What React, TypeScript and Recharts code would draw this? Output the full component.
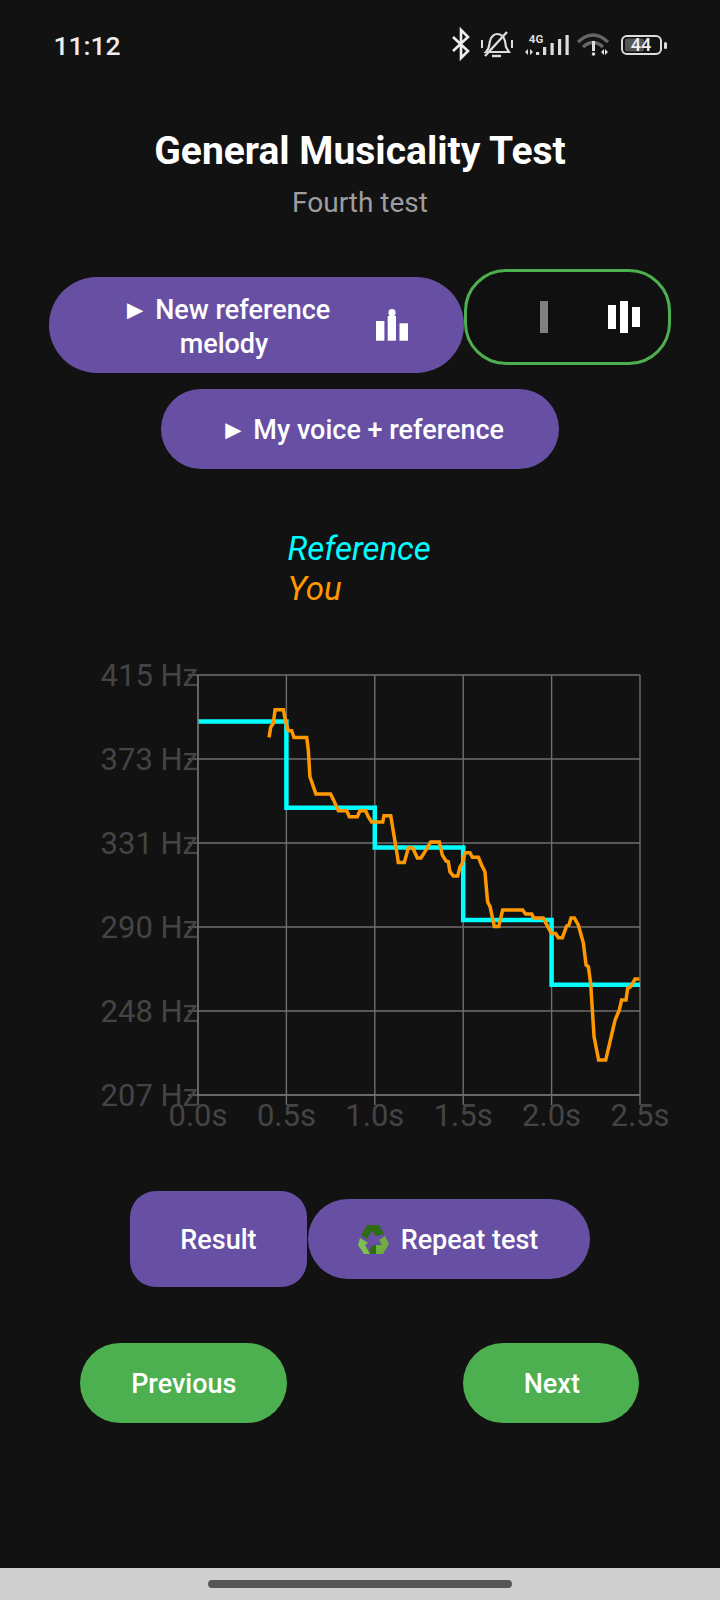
import React from "react";
import { LineChart, Line, XAxis, YAxis, CartesianGrid } from "recharts";

const referenceTimes = [0, 0.5, 1, 1.5, 2, 2.5];
const referenceHz = [392, 349.2, 329.6, 293.7, 261.6, 261.6];
const youTimes = [
  0.402, 0.411, 0.426, 0.436, 0.483, 0.496, 0.511, 0.53, 0.543, 0.615, 0.624, 0.633, 0.667, 0.75, 0.765, 0.794,
  0.841, 0.856, 0.901, 0.916, 0.948, 0.963, 0.982, 1.045, 1.052, 1.09, 1.124, 1.133, 1.167, 1.19, 1.214, 1.241,
  1.261, 1.284, 1.316, 1.365, 1.382, 1.403, 1.416, 1.425, 1.444, 1.469, 1.482, 1.495, 1.51, 1.538, 1.552, 1.586,
  1.604, 1.623, 1.638, 1.652, 1.676, 1.701, 1.723, 1.836, 1.853, 1.887, 1.9, 1.953, 1.978, 2.0, 2.023, 2.038,
  2.061, 2.085, 2.098, 2.11, 2.129, 2.151, 2.18, 2.195, 2.208, 2.221, 2.24, 2.266, 2.306, 2.359, 2.383, 2.396,
  2.421, 2.43, 2.447, 2.472, 2.496,
];
const youHz = [
  384.1, 389.1, 391.1, 397.8, 397.8, 391.9, 387.4, 387.4, 384, 384, 377.9, 364.6, 356.1, 356.1, 353.4, 347.8,
  347.8, 344.8, 344.8, 347.8, 347.8, 344.8, 342.2, 342.2, 345.3, 345.3, 327.5, 322.2, 322.2, 329.5, 329.5, 324.4,
  324.4, 327.5, 332.3, 332.3, 325.8, 322.9, 322.5, 317.6, 315.4, 315.4, 320.1, 321.7, 327, 327, 324.7, 324.7,
  320.9, 317.6, 302.7, 300.3, 290.4, 290.4, 298.6, 298.6, 296.6, 296.6, 294.6, 294.6, 290.4, 287, 287, 284.9,
  284.9, 290.7, 291.2, 294.6, 294.6, 291.2, 282.1, 271.4, 270.5, 262.3, 235.9, 224.3, 224.3, 244.1, 249.1, 254,
  254, 259.8, 260.6, 264.4, 264.4,
];
const xTicks = [0, 0.5, 1, 1.5, 2, 2.5];
const yTicks = [207, 248.6, 290.2, 331.8, 373.4, 415];

const referenceData = referenceTimes.map((t, i) => ({ t, hz: referenceHz[i] }));
const youData = youTimes.map((t, i) => ({ t, hz: youHz[i] }));

const FONT = "Roboto, sans-serif";
const PURPLE = "#6750A4";
const GREEN = "#4CAF50";
const GRID = "#6f6f6f";
const LABEL = "#444444";

function Box(p: { x0: number; y0: number; x1: number; y1: number; r: number; bg: string; children?: React.ReactNode; style?: React.CSSProperties }) {
  return (
    <div style={{ position: "absolute", left: p.x0, top: p.y0, width: p.x1 - p.x0, height: p.y1 - p.y0, borderRadius: p.r, background: p.bg, boxSizing: "border-box", ...p.style }}>
      {p.children}
    </div>
  );
}

function Label(p: { cx: number; cy: number; size: number; color: string; weight?: number; italic?: boolean; text: string; left?: number }) {
  const h = 60;
  const base: React.CSSProperties = {
    position: "absolute",
    top: p.cy - h / 2,
    height: h,
    lineHeight: h + "px",
    fontFamily: FONT,
    fontSize: p.size,
    color: p.color,
    fontWeight: p.weight ?? 400,
    fontStyle: p.italic ? "italic" : "normal",
    whiteSpace: "pre",
  };
  if (p.left !== undefined) return <div style={{ ...base, left: p.left }}>{p.text}</div>;
  return <div style={{ ...base, left: p.cx - 300, width: 600, textAlign: "center" }}>{p.text}</div>;
}

function Icons() {
  const rects: [number, number, number, number, string][] = [
    [540, 301, 8, 32, "#808080"],
    [608, 305, 8, 24, "#fff"],
    [620, 301, 8, 32, "#fff"],
    [632, 307, 8, 20, "#fff"],
    [376, 321, 8.4, 19.7, "#fff"],
    [387.7, 316, 8.3, 24.7, "#fff"],
    [399.5, 323.3, 8.5, 17.4, "#fff"],
    [536, 52, 3.2, 3, "#ddd"],
    [543, 47, 3.2, 8, "#ddd"],
    [550.5, 43, 3.2, 12, "#ddd"],
    [558, 39, 3.2, 16, "#ddd"],
    [565.5, 35, 3.2, 20, "#ddd"],
  ];
  return (
    <svg width={720} height={1600} style={{ position: "absolute", left: 0, top: 0, pointerEvents: "none" }}>
      {rects.map((r, i) => (
        <rect key={i} x={r[0]} y={r[1]} width={r[2]} height={r[3]} fill={r[4]} />
      ))}
      <circle cx={392} cy={312.7} r={3.6} fill="#fff" />
      {/* bluetooth */}
      <polyline points="453,37 468,51 461,58 461,30 468,37 453,51" fill="none" stroke="#eee" strokeWidth={2.6} />
      {/* muted bell */}
      <path d="M486,52 C490,48 489,44 490,41 C491,36 495,34 497,34 C501,34 504,37 505,41 L506,47 L509,52 Z" fill="none" stroke="#ddd" strokeWidth={2.2} />
      <path d="M492,56 H501" stroke="#ddd" strokeWidth={2.4} />
      <path d="M485,56 L507,32" stroke="#ddd" strokeWidth={2.4} />
      <path d="M482,40 V48 M512,40 V48" stroke="#ddd" strokeWidth={2} />
      <text x={536} y={43} fontFamily={FONT} fontWeight={700} fontSize={11.5} fill="#ddd" textAnchor="middle">4G</text>
      <path d="M525,52 l3,-3 v6 z M530,49 l3,3 -3,3 z" fill="#ddd" />
      {/* wifi */}
      <path d="M578,42 Q593,28 608,42" fill="none" stroke="#666" strokeWidth={3.2} />
      <path d="M583,47 Q593,38 603,47" fill="none" stroke="#666" strokeWidth={3.2} />
      <rect x={592} y={41} width={3} height={10} fill="#ddd" />
      <circle cx={593.5} cy={54} r={1.8} fill="#ddd" />
      <path d="M601,52 l3,-3 v6 z M605,49 l3,3 -3,3 z" fill="#ddd" />
      {/* battery */}
      <rect x={622} y={36} width={39} height={18} rx={5} fill="none" stroke="#ddd" strokeWidth={2} />
      <rect x={625} y={38.5} width={19} height={13} rx={2} fill="#555" />
      <rect x={664} y={42} width={3} height={7} rx={1.5} fill="#ddd" />
      <text x={641} y={51} fontFamily={FONT} fontWeight={500} fontSize={18} fill="#eee" textAnchor="middle">44</text>
      {/* recycle */}
      <g transform="translate(373 1240)">
        <polygon points="-6,-15 6,-15 11,-6 3,-4 -1,-9 -6,-1 -12,-5" fill="#2e6b12" />
        <polygon points="12,-4 16,4 10,14 1,14 1,9 -4,14 1,9 1,5 9,5 6,0" fill="#6fae3f" />
        <polygon points="-13,-2 -5,3 -8,5 -3,14 -9,14 -15,5" fill="#7fbf4f" />
        <polygon points="-3,8 3,4 3,14 -3,14" fill="#2e6b12" />
      </g>
    </svg>
  );
}

export default function App() {
  return (
    <div style={{ position: "absolute", left: 0, top: 0, width: 720, height: 1600, background: "#121212", overflow: "hidden", fontFamily: FONT }}>
      <Label cx={87} cy={45.5} size={26.5} weight={500} color="#eeeeee" text="11:12" />
      <Label cx={360} cy={151} size={39} weight={700} color="#ffffff" text="General Musicality Test" />
      <Label cx={360} cy={203} size={28} color="#9e9e9e" text="Fourth test" />

      <Box x0={48.5} y0={277} x1={463.5} y1={372.7} r={48} bg={PURPLE} />
      <Label cx={226} cy={309.5} size={27} weight={500} color="#fff" text="► New reference" />
      <Label cx={224} cy={343.5} size={27} weight={500} color="#fff" text="melody" />
      <Box x0={464.3} y0={269} x1={671.5} y1={364.7} r={42} bg="#101010" style={{ border: `3.5px solid ${GREEN}` }} />
      <Box x0={161} y0={389} x1={558.6} y1={468.7} r={40} bg={PURPLE} />
      <Label cx={362} cy={429.5} size={27} weight={500} color="#fff" text="► My voice + reference" />

      <Label cx={0} left={287.5} cy={549} size={33} italic color="#00FFFF" text="Reference" />
      <Label cx={0} left={287.5} cy={589} size={33} italic color="#FF9800" text="You" />

      <div style={{ position: "absolute", left: 0, top: 640 }}>
        <LineChart width={720} height={520} margin={{ top: 35, right: 80, bottom: 25, left: 88 }}>
          <CartesianGrid stroke={GRID} strokeWidth={1.4} />
          <XAxis
            dataKey="t"
            type="number"
            domain={[0, 2.5]}
            ticks={xTicks}
            allowDuplicatedCategory={false}
            tickFormatter={(v: number) => v.toFixed(1) + "s"}
            stroke={GRID}
            strokeWidth={1.4}
            tickSize={10}
            tickMargin={-1}
            height={40}
            interval={0}
            tick={{ fill: LABEL, fontSize: 31, fontFamily: FONT }}
          />
          <YAxis
            dataKey="hz"
            type="number"
            domain={[207, 415]}
            ticks={yTicks}
            tickFormatter={(v: number) => Math.floor(v) + " Hz"}
            stroke={GRID}
            strokeWidth={1.4}
            tickSize={10}
            tickMargin={-10}
            width={110}
            interval={0}
            tick={{ fill: LABEL, fontSize: 31, fontFamily: FONT }}
          />
          <Line data={referenceData} dataKey="hz" type="stepAfter" stroke="#00FFFF" strokeWidth={4.5} dot={false} isAnimationActive={false} />
          <Line data={youData} dataKey="hz" type="linear" stroke="#FF9800" strokeWidth={3.5} dot={false} isAnimationActive={false} />
        </LineChart>
      </div>

      <Box x0={130} y0={1191} x1={306.8} y1={1286.7} r={26} bg={PURPLE} />
      <Label cx={218.4} cy={1240} size={27} weight={500} color="#fff" text="Result" />
      <Box x0={307.6} y0={1199} x1={589.7} y1={1278.7} r={40} bg={PURPLE} />
      <Label cx={469.5} cy={1240} size={27} weight={500} color="#fff" text="Repeat test" />
      <Box x0={80} y0={1343} x1={287} y1={1422.7} r={40} bg={GREEN} />
      <Label cx={183.8} cy={1384} size={27} weight={500} color="#fff" text="Previous" />
      <Box x0={463} y0={1343} x1={639} y1={1422.7} r={40} bg={GREEN} />
      <Label cx={551.8} cy={1384} size={27} weight={500} color="#fff" text="Next" />

      <Box x0={0} y0={1568} x1={720} y1={1600} r={0} bg="#cfcfcf" />
      <Box x0={208} y0={1580} x1={512} y1={1588} r={4} bg="#555555" />
      <Icons />
    </div>
  );
}
